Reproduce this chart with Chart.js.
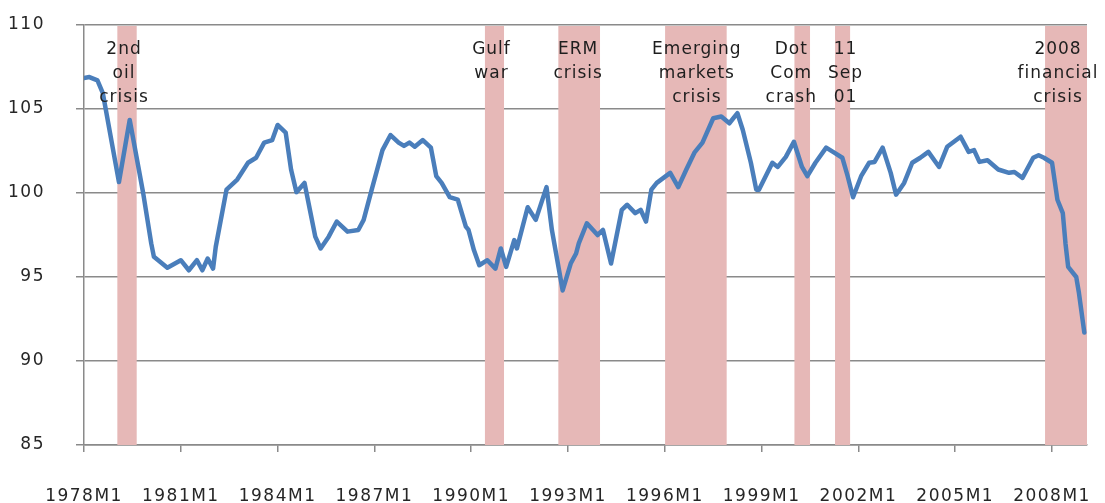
<!DOCTYPE html>
<html>
<head>
<meta charset="utf-8">
<script src="https://cdn.jsdelivr.net/npm/chart.js@4.4.0/dist/chart.umd.min.js"></script>
<style>
  html, body { margin: 0; padding: 0; background: #fff; }
</style>
</head>
<body>
<canvas id="chart-line" width="1105" height="503"></canvas>
<script>
// months counted from 1978M1 (= 0)
var months = [0, 2, 5, 7, 13, 17, 22, 25, 26, 31, 36, 39, 42, 44, 46, 48, 49, 53, 57, 61,
  64, 67, 70, 72, 75, 77, 79, 82, 84, 86, 88, 91, 94, 98, 102, 104, 107, 111, 114, 117,
  119, 121, 123, 126, 129, 131, 133, 136, 139, 142, 143, 145, 147, 150, 153, 155, 157, 160, 161, 165,
  168, 172, 174, 178, 181, 183, 184, 187, 191, 193, 196, 200, 202, 205, 207, 209, 211, 213, 218, 221,
  224, 227, 230, 234, 237, 240, 243, 245, 248, 250, 251, 256, 258, 261, 264, 267, 269, 272, 276, 279,
  282, 284, 286, 289, 292, 294, 297, 300, 302, 305, 308, 311, 314, 318, 321, 326, 329, 331, 333, 336,
  340, 344, 346, 349, 353, 355, 357, 360, 362, 364, 365, 366, 369, 370, 372];
var index = [106.85, 106.9, 106.7, 105.95, 100.65, 104.35, 100.0, 97.0, 96.2, 95.55, 96.0, 95.4, 96.0, 95.4, 96.1, 95.5, 96.8, 100.2, 100.8, 101.8,
  102.1, 103.0, 103.15, 104.05, 103.6, 101.4, 100.05, 100.6, 99.0, 97.4, 96.7, 97.4, 98.3, 97.7, 97.8, 98.4, 100.2, 102.55, 103.45, 103.0,
  102.8, 103.0, 102.75, 103.15, 102.7, 101.0, 100.6, 99.75, 99.6, 98.0, 97.8, 96.6, 95.7, 96.0, 95.5, 96.7, 95.6, 97.2, 96.7, 99.15,
  98.4, 100.35, 97.8, 94.2, 95.8, 96.4, 97.0, 98.2, 97.5, 97.8, 95.8, 99.0, 99.3, 98.8, 99.0, 98.3, 100.2, 100.6, 101.2, 100.35,
  101.4, 102.4, 103.0, 104.45, 104.55, 104.15, 104.75, 103.75, 101.8, 100.2, 100.2, 101.8, 101.55, 102.15, 103.05, 101.55, 101.0, 101.8, 102.7, 102.4,
  102.1, 101.0, 99.75, 101.0, 101.8, 101.85, 102.7, 101.2, 99.9, 100.6, 101.8, 102.1, 102.45, 101.55, 102.75, 103.35, 102.45, 102.55, 101.85, 101.95,
  101.4, 101.2, 101.25, 100.9, 102.1, 102.25, 102.1, 101.8, 99.6, 98.8, 97.0, 95.6, 95.0, 94.05, 91.7];

var tickMonths = [0, 36, 72, 108, 144, 180, 216, 252, 288, 324, 360];
var tickLabels = ["1978M1", "1981M1", "1984M1", "1987M1", "1990M1", "1993M1", "1996M1", "1999M1", "2002M1", "2005M1", "2008M1"];
var yTicks = [85, 90, 95, 100, 105, 110];

var crisisNames = [["2nd", "oil", "crisis"], ["Gulf", "war"], ["ERM", "crisis"], ["Emerging", "markets", "crisis"],
  ["Dot", "Com", "crash"], ["11", "Sep", "01"], ["2008", "financial", "crisis"]];
var crisisStart = [12.4, 149.1, 176.4, 216.1, 264.2, 279.3, 357.4];
var crisisEnd = [19.6, 156.2, 191.9, 239.0, 270.0, 284.9, 373];

var axisFont = { family: "DejaVu Sans", size: 17 };

var crisisBands = {
  id: "crisisBands",
  beforeDraw: function(chart) {
    // the reference text is set wide, like Verdana
    chart.ctx.letterSpacing = "1.5px";
  },
  beforeDatasetsDraw: function(chart) {
    var ctx = chart.ctx, xs = chart.scales.x, ys = chart.scales.y;
    var top = ys.getPixelForValue(110) + 1, bottom = ys.getPixelForValue(85);
    ctx.save();
    ctx.fillStyle = "#e6b8b7";
    for (var i = 0; i < crisisStart.length; i++) {
      var x0 = xs.getPixelForValue(crisisStart[i]);
      var x1 = xs.getPixelForValue(crisisEnd[i]);
      ctx.fillRect(x0, top, x1 - x0, bottom - top);
    }
    ctx.restore();
  },
  afterDatasetsDraw: function(chart, args, opts) {
    var ctx = chart.ctx, xs = chart.scales.x;
    ctx.save();
    ctx.font = "17px 'DejaVu Sans'";
    ctx.letterSpacing = "1px";
    ctx.fillStyle = "#1e1e1e";
    ctx.textAlign = "center";
    ctx.textBaseline = "middle";
    for (var i = 0; i < crisisNames.length; i++) {
      var cx = (xs.getPixelForValue(crisisStart[i]) + xs.getPixelForValue(crisisEnd[i])) / 2 + opts.shift[i];
      crisisNames[i].forEach(function(line, j) {
        ctx.fillText(line, cx, opts.top + j * opts.lineHeight);
      });
    }
    ctx.restore();
  }
};

var ctx = document.getElementById("chart-line").getContext("2d");

new Chart(ctx, {
  type: "line",
  data: {
    datasets: [{
      label: "Index",
      data: months.map(function(m, i) { return { x: m, y: index[i] }; }),
      borderColor: "#4a7ebb",
      borderWidth: 4.5,
      borderJoinStyle: "round",
      borderCapStyle: "round",
      pointRadius: 0,
      tension: 0,
      fill: false
    }]
  },
  plugins: [crisisBands],
  options: {
    responsive: false,
    animation: false,
    layout: { padding: { top: 25, right: 18, left: 0, bottom: 0 } },
    plugins: {
      legend: { display: false },
      tooltip: { enabled: false },
      crisisBands: { shift: [-3, -3, -1, 1, -11, 3, -8], top: 50, lineHeight: 24 }
    },
    scales: {
      x: {
        type: "linear",
        min: 0,
        max: 373,
        afterFit: function(s) { s.height = 58; s.paddingLeft = 0; s.paddingRight = 0; },
        afterBuildTicks: function(s) { s.ticks = tickMonths.map(function(v) { return { value: v }; }); },
        grid: { drawOnChartArea: false, drawTicks: true, tickLength: 7, color: "#8a8a8a", lineWidth: 1.5 },
        border: { display: true, color: "#8a8a8a", width: 1.5 },
        ticks: {
          autoSkip: false,
          maxRotation: 0,
          padding: 34,
          color: "#262626",
          font: axisFont,
          callback: function(v, i) { return tickLabels[i]; }
        }
      },
      y: {
        min: 85,
        max: 110,
        afterFit: function(s) { s.width = 84; s.paddingTop = 0; s.paddingBottom = 0; },
        afterBuildTicks: function(s) { s.ticks = yTicks.map(function(v) { return { value: v }; }); },
        grid: { color: "#8a8a8a", lineWidth: 1.5, tickLength: 8, drawTicks: true },
        border: { display: true, color: "#8a8a8a", width: 1.5 },
        ticks: { color: "#262626", padding: 31, font: axisFont }
      }
    }
  }
});
</script>
</body>
</html>
